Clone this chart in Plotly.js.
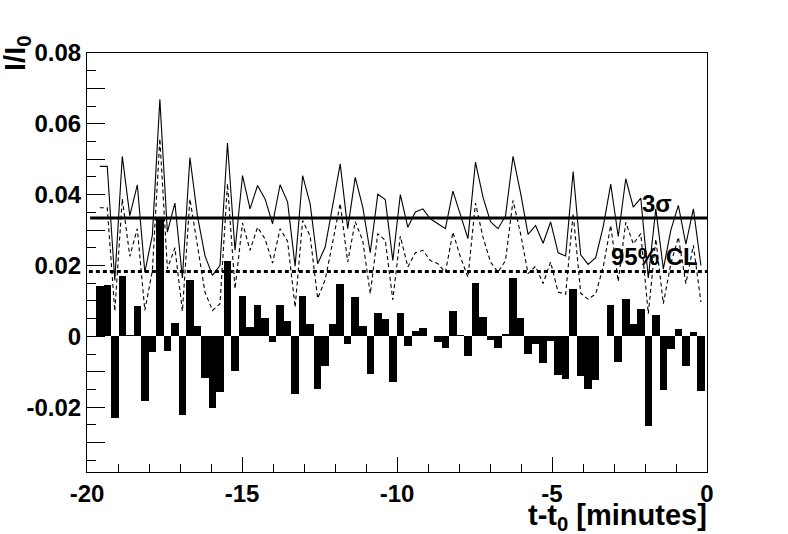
<!DOCTYPE html>
<html>
<head>
<meta charset="utf-8">
<script src="https://cdn.plot.ly/plotly-3.0.1.min.js"></script>
<style>html,body{margin:0;padding:0;background:#fff;}#chart{width:788px;height:534px;}</style>
</head>
<body>
<div id="chart"></div>
<script>
// Histogram binning (minutes relative to t0)
const binStart = -19.71;
const binWidth = 0.2424;

// Bin contents I/I0
const barValues = [
  0.0142, 0.0145, -0.0230, 0.0171, 0.0003, 0.0087, -0.0183, -0.0044, 0.0337, -0.0042,
  0.0037, -0.0221, 0.0159, 0.0029, -0.0118, -0.0202, -0.0157, 0.0213, -0.0099, 0.0113,
  0.0025, 0.0088, 0.0053, -0.0017, 0.0089, 0.0044, -0.0164, 0.0114, 0.0036, -0.0148,
  -0.0085, 0.0035, 0.0147, -0.0023, 0.0110, 0.0028, -0.0105, 0.0065, 0.0049, -0.0129,
  0.0067, -0.0028, 0.0016, 0.0024, 0.0001, -0.0016, -0.0032, 0.0071, 0.0003, -0.0056,
  0.0150, 0.0056, -0.0011, -0.0033, 0.0007, 0.0166, 0.0053, -0.0049, -0.0021, -0.0075,
  -0.0012, -0.0110, -0.0120, 0.0134, -0.0113, -0.0150, -0.0124, 0.0000, 0.0089, -0.0072,
  0.0106, 0.0035, 0.0078, -0.0253, 0.0061, -0.0152, -0.0035, 0.0022, -0.0085, 0.0012,
  -0.0155
];

// Per-bin 3 sigma threshold (solid curve)
const sigma3Curve = [
  0.0480, 0.0480, 0.0158, 0.0508, 0.0341, 0.0428, 0.0181, 0.0285, 0.0669, 0.0294,
  0.0376, 0.0165, 0.0505, 0.0340, 0.0228, 0.0172, 0.0200, 0.0546, 0.0243, 0.0454,
  0.0360, 0.0426, 0.0388, 0.0318, 0.0428, 0.0379, 0.0198, 0.0454, 0.0374, 0.0205,
  0.0252, 0.0368, 0.0487, 0.0304, 0.0449, 0.0365, 0.0236, 0.0401, 0.0386, 0.0214,
  0.0400, 0.0308, 0.0351, 0.0360, 0.0332, 0.0318, 0.0304, 0.0410, 0.0346, 0.0276,
  0.0492, 0.0393, 0.0324, 0.0304, 0.0340, 0.0508, 0.0405, 0.0288, 0.0313, 0.0263,
  0.0323, 0.0236, 0.0227, 0.0465, 0.0230, 0.0203, 0.0222, 0.0310, 0.0430, 0.0282,
  0.0445, 0.0365, 0.0390, 0.0165, 0.0360, 0.0190, 0.0300, 0.0370, 0.0260, 0.0360,
  0.0200
];

// Per-bin 95% CL threshold (dashed curve)
const cl95Curve = [
  0.0363, 0.0363, 0.0071, 0.0388, 0.0226, 0.0304, 0.0073, 0.0185, 0.0558, 0.0191,
  0.0250, 0.0071, 0.0388, 0.0257, 0.0125, 0.0073, 0.0092, 0.0431, 0.0134, 0.0320,
  0.0243, 0.0308, 0.0275, 0.0207, 0.0304, 0.0268, 0.0082, 0.0327, 0.0283, 0.0107,
  0.0160, 0.0266, 0.0375, 0.0210, 0.0324, 0.0270, 0.0120, 0.0290, 0.0271, 0.0103,
  0.0283, 0.0196, 0.0236, 0.0243, 0.0214, 0.0205, 0.0181, 0.0294, 0.0224, 0.0167,
  0.0376, 0.0280, 0.0210, 0.0181, 0.0214, 0.0384, 0.0290, 0.0177, 0.0198, 0.0149,
  0.0210, 0.0125, 0.0119, 0.0347, 0.0122, 0.0105, 0.0120, 0.0196, 0.0313, 0.0155,
  0.0322, 0.0261, 0.0290, 0.0064, 0.0275, 0.0092, 0.0205, 0.0280, 0.0149, 0.0257,
  0.0097
];

// Overall thresholds
const sigma3Level = 0.0334;
const cl95Level = 0.0183;

// Axis ticks
const xTickVals = [-20, -15, -10, -5, 0];
const xTickLabels = ['-20', '-15', '-10', '-5', '0'];
const yTickVals = [-0.03, -0.02, -0.01, 0, 0.01, 0.02, 0.03, 0.04, 0.05, 0.06, 0.07, 0.08];
const yTickLabels = ['', '-0.02', '', '0', '', '0.02', '', '0.04', '', '0.06', '', '0.08'];

const binCenters = barValues.map((_, i) => binStart + (i + 0.5) * binWidth);

const FONT = {family: 'Liberation Sans, Arial, sans-serif', size: 24, color: '#000', weight: 'bold'};
const TITLE_FONT = {family: 'Liberation Sans, Arial, sans-serif', size: 29, color: '#000', weight: 'bold'};

const traces = [
  {type: 'bar', x: binCenters, y: barValues, width: binWidth,
   marker: {color: '#000', line: {width: 0}}, hoverinfo: 'skip'},
  {type: 'scatter', mode: 'lines', x: binCenters, y: sigma3Curve,
   line: {color: '#000', width: 1.1}, hoverinfo: 'skip'},
  {type: 'scatter', mode: 'lines', x: binCenters, y: cl95Curve,
   line: {color: '#000', width: 1.1, dash: '4px,3px'}, hoverinfo: 'skip'}
];

const layout = {
  width: 788, height: 534,
  margin: {l: 87, r: 81, t: 53, b: 62, pad: 0},
  paper_bgcolor: '#fff', plot_bgcolor: '#fff',
  showlegend: false,
  bargap: 0,
  font: FONT,
  xaxis: {
    range: [-20, 0], tickmode: 'array', tickvals: xTickVals, ticktext: xTickLabels,
    ticks: 'inside', ticklen: 15, tickwidth: 1, tickcolor: '#000',
    minor: {tickmode: 'linear', tick0: -20, dtick: 1, ticks: 'inside', ticklen: 8, tickwidth: 1, tickcolor: '#000'},
    showline: true, linecolor: '#000', linewidth: 1, mirror: true,
    showgrid: false, zeroline: false, tickfont: FONT
  },
  yaxis: {
    range: [-0.0383, 0.08], tickmode: 'array', tickvals: yTickVals, ticktext: yTickLabels,
    ticks: 'inside', ticklen: 18, tickwidth: 1, tickcolor: '#000',
    minor: {tickmode: 'linear', tick0: 0, dtick: 0.005, ticks: 'inside', ticklen: 9, tickwidth: 1, tickcolor: '#000'},
    showline: true, linecolor: '#000', linewidth: 1, mirror: true,
    showgrid: false, zeroline: false, tickfont: FONT
  },
  shapes: [
    {type: 'line', xref: 'paper', yref: 'y', x0: 0.005, x1: 1, y0: sigma3Level, y1: sigma3Level,
     line: {color: '#000', width: 3}, layer: 'above'},
    {type: 'line', xref: 'paper', yref: 'y', x0: 0.003, x1: 1, y0: cl95Level, y1: cl95Level,
     line: {color: '#000', width: 3, dash: '4px,3px'}, layer: 'above'}
  ],
  annotations: [
    {text: '3σ', xref: 'x', yref: 'y', x: -1.62, y: 0.0375, showarrow: false,
     xanchor: 'center', yanchor: 'middle', font: FONT},
    {text: '95% CL', xref: 'x', yref: 'y', x: -1.69, y: 0.0226, showarrow: false,
     xanchor: 'center', yanchor: 'middle', font: FONT},
    {text: 't-t<sub>0</sub> [minutes]', xref: 'paper', yref: 'paper', x: 1.004, y: -0.108,
     showarrow: false, xanchor: 'right', yanchor: 'middle', font: TITLE_FONT},
    {text: 'I/I<sub>0</sub>', xref: 'paper', yref: 'paper', x: -0.114, y: 1.045, textangle: -90,
     showarrow: false, xanchor: 'center', yanchor: 'top', font: TITLE_FONT}
  ]
};

Plotly.newPlot('chart', traces, layout, {staticPlot: true, displayModeBar: false});
</script>
</body>
</html>
